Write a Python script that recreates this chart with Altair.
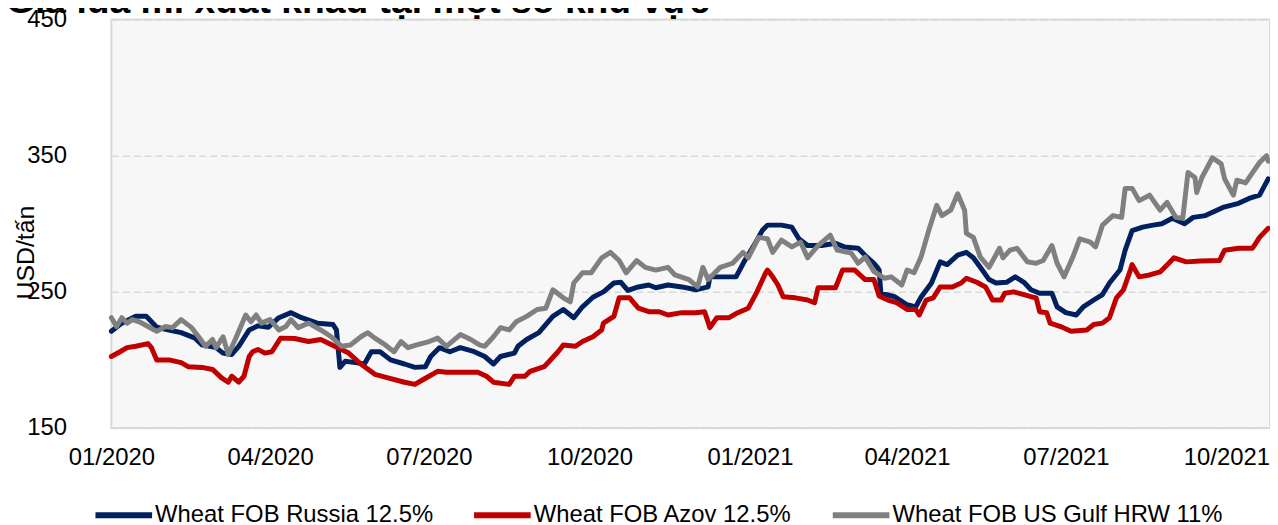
import altair as alt
import pandas as pd

# ---- data ----
TITLE = "Giá lúa mì xuất khẩu tại một số khu vực"
SERIES = ["Wheat FOB Russia 12.5%", "Wheat FOB Azov 12.5%", "Wheat FOB US Gulf HRW 11%"]
COLORS = ["#002060", "#c00000", "#808080"]
START = "2020-01-01"  # day 0 of the day-offset arrays below

russia_days = [0, 6, 14, 20, 26, 33, 40, 48, 52, 60, 64, 69, 73, 79, 84, 90, 96, 103, 109, 118,
               127, 129, 131, 134, 140, 145, 149, 154, 160, 168, 174, 180, 183, 188, 194, 200, 208,
               214, 219, 223, 231, 233, 238, 245, 253, 259, 265, 270, 276, 282, 288, 292, 296, 302,
               308, 312, 319, 327, 335, 342, 343, 350, 358, 363, 369, 373, 376, 384, 390, 394, 399,
               407, 415, 420, 428, 433, 437, 439, 440, 441, 449, 456, 461, 464, 470, 475, 479, 485,
               490, 494, 498, 503, 507, 513, 518, 523, 527, 532, 539, 542, 547, 553, 557, 563, 568,
               572, 578, 581, 585, 591, 597, 602, 608, 615, 620, 627, 637, 646, 652, 658, 663]
russia_vals = [221, 227, 232, 232, 224, 222, 220, 216, 211, 209, 205, 204, 210, 222, 225, 224, 231,
               234.7, 231, 227, 226, 222, 194.5, 199, 198, 197, 206, 206, 200, 197, 194.5, 195,
               202.5, 209, 206, 209, 206, 202.5, 197, 202.5, 205, 210, 215, 220, 232, 237, 231,
               239, 246, 250, 256.5, 257, 251, 253.6, 255, 253, 255, 253.6, 251.5, 253.6, 261,
               261, 261, 273, 285.7, 295, 299, 299, 297.5, 289, 284, 284, 285.7, 283, 282, 275.5,
               271, 268, 266, 249, 246.4, 240.5, 239, 246, 256.5, 272, 270, 277, 279, 275, 268,
               259, 256.5, 257, 261, 257, 251.5, 249, 249, 239, 234.7, 233, 239, 244, 248, 256.5,
               266, 280.6, 295, 297.5, 299, 300, 304, 300, 304.7, 306, 312, 315, 318.6, 321, 333]

azov_days = [0, 5, 9, 14, 21, 23, 26, 33, 40, 44, 52, 58, 63, 67, 69, 73, 76, 79, 81, 84, 88, 92,
             97, 105, 113, 120, 128, 136, 143, 151, 158, 168, 174, 179, 187, 192, 200, 210, 215,
             219, 228, 231, 237, 240, 248, 251, 256, 259, 266, 270, 276, 281, 282, 288, 291, 297,
             302, 308, 314, 319, 327, 335, 340, 343, 347, 354, 359, 365, 370, 375, 376, 379, 382,
             385, 392, 399, 403, 405, 415, 419, 426, 432, 437, 440, 445, 450, 456, 461, 463, 467,
             471, 475, 482, 487, 490, 496, 501, 505, 510, 512, 517, 523, 527, 530, 532, 536, 538,
             544, 550, 559, 563, 568, 572, 576, 580, 584, 585, 589, 595, 601, 606, 609, 616, 624,
             635, 638, 646, 654, 658, 663]
azov_vals = [202.5, 206, 209, 210, 212, 209, 200, 200, 198, 195, 194.5, 193, 187, 183.6, 188,
             183.6, 188, 202.5, 206, 207.7, 205, 206, 216, 215.7, 213.5, 215, 210, 205, 197,
             189.4, 187, 183.6, 182, 185.8, 191.6, 190.9, 190.9, 191, 188, 183.6, 182, 188, 188,
             191.6, 195, 199, 206, 211, 210, 213.5, 217, 222, 227, 232, 245.6, 245.6, 238, 235.4,
             235.4, 233, 234.7, 234.7, 235.4, 223.7, 231, 231, 234.7, 238, 250, 264, 266, 261,
             255, 246.4, 245.6, 244, 242, 253, 253, 266, 266, 259, 259, 247, 244, 242, 237, 237,
             233, 244, 245.6, 253.6, 253.6, 256.5, 260, 257, 253.6, 244, 244, 249, 250, 248,
             246.4, 245.6, 235.4, 234.7, 227, 224.5, 221, 222, 226, 227, 231, 245.6, 251.5, 266,
             270, 261, 262.4, 264.6, 271, 275, 272, 272.6, 273, 280.6, 282, 282, 290, 296.7]

gulf_days = [0, 3, 6, 9, 12, 16, 21, 26, 31, 35, 40, 46, 50, 54, 58, 60, 64, 67, 71, 77, 80, 83,
             86, 91, 96, 100, 103, 107, 113, 120, 126, 132, 137, 143, 147, 151, 157, 162, 166, 170,
             175, 181, 187, 192, 200, 206, 211, 214, 219, 223, 228, 232, 238, 244, 249, 253, 259,
             263, 265, 270, 275, 281, 286, 291, 295, 301, 306, 312, 319, 323, 331, 336, 339, 342,
             349, 356, 362, 365, 371, 376, 379, 384, 390, 395, 399, 405, 412, 416, 424, 428, 432,
             437, 443, 447, 453, 456, 460, 464, 469, 473, 476, 481, 485, 489, 490, 494, 498, 503,
             509, 511, 515, 519, 525, 530, 534, 539, 542, 546, 551, 555, 561, 564, 568, 574, 579,
             581, 585, 589, 595, 601, 605, 610, 614, 617, 621, 622, 625, 631, 636, 638, 643, 645,
             650, 654, 658, 662, 663]
gulf_vals = [231, 224.5, 231, 227, 229.6, 228, 224.5, 221, 224.5, 223.7, 229.6, 223.7, 217, 210,
             215, 209, 217, 204, 215, 233, 228, 233, 227, 229.6, 222, 224.5, 229.6, 223.7, 227,
             222, 217, 210, 211, 217, 220, 216, 211, 206, 213.5, 209, 211, 213, 216, 210, 218.6,
             215, 211, 210, 217, 223.7, 222, 228, 232, 237, 238, 251.5, 245.6, 242.7, 256.5, 264,
             264, 275, 279, 273, 264, 273, 268, 266, 268, 262.4, 259, 253.6, 268, 259, 268, 271,
             279, 275, 290, 289, 279, 288, 283, 286.5, 275, 284, 291.6, 280.6, 278.5, 271, 275.5,
             265, 260, 261, 255, 266, 264, 275.5, 297.5, 313.5, 306, 310, 322, 310, 293, 290,
             275.5, 268, 282, 275, 280.6, 282, 272, 271, 273, 284, 271, 261, 275.5, 289, 286.5,
             283, 299, 306, 304.7, 326, 326, 317, 321, 310, 315.7, 304.7, 304, 337.6, 334, 323,
             334, 348.5, 344, 333, 321, 332, 330, 337.6, 345, 350, 346]

Y_TICKS = [150, 250, 350, 450]
X_TICKS = ["2020-01-01", "2020-04-01", "2020-07-01", "2020-10-01",
           "2021-01-01", "2021-04-01", "2021-07-01", "2021-10-01"]
X_END = "2021-10-26"

# ---- build table ----
rows = []
start = pd.Timestamp(START)
for name, days, vals in zip(SERIES, [russia_days, azov_days, gulf_days],
                            [russia_vals, azov_vals, gulf_vals]):
    for d, v in zip(days, vals):
        rows.append({"date": (start + pd.Timedelta(days=d)).strftime("%Y-%m-%d"),
                     "value": v, "series": name})
df = pd.DataFrame(rows)


def dt(s):
    t = pd.Timestamp(s)
    return alt.DateTime(year=t.year, month=t.month, date=t.day, utc=True)


FONT = "Liberation Sans"

x_enc = alt.X(
    "date:T",
    scale=alt.Scale(type="utc", domain=[dt(START), dt(X_END)], nice=False),
    axis=alt.Axis(values=[dt(s) for s in X_TICKS],
                  labelExpr="utcFormat(datum.value, '%m/%Y')",
                  title=None, ticks=False, domain=False, grid=False, labelFlush=False,
                  labelFontSize=24, labelPadding=18, labelColor="#000000", labelFont=FONT),
)
y_enc = alt.Y(
    "value:Q",
    scale=alt.Scale(domain=[Y_TICKS[0], Y_TICKS[-1]], nice=False, zero=False),
    axis=alt.Axis(values=Y_TICKS, title="USD/tấn", ticks=False, domain=False, grid=True,
                  gridDash=[7, 4], gridColor="#d9d9d9", gridWidth=1.5,
                  labelFontSize=24, labelPadding=45, labelColor="#000000", labelFont=FONT,
                  titleFontSize=25, titleFontWeight="normal", titleColor="#000000",
                  titleFont=FONT, titleAngle=-90, titleAlign="center",
                  titleBaseline="alphabetic", titleX=-78, titleY=234),
)

lines = alt.Chart(df).mark_line(strokeWidth=5, strokeJoin="round", strokeCap="round").encode(
    x=x_enc,
    y=y_enc,
    color=alt.Color(
        "series:N",
        sort=SERIES,
        scale=alt.Scale(domain=SERIES, range=COLORS),
        legend=alt.Legend(orient="none", legendX=-19, legendY=467, direction="horizontal",
                          title=None, symbolType="stroke", symbolStrokeWidth=6,
                          symbolSize=3249, labelFontSize=24, labelFont=FONT,
                          labelColor="#000000", labelOffset=0, columnPadding=28,
                          labelLimit=500, padding=0),
    ),
)

title = alt.Chart(pd.DataFrame({"t": [TITLE]})).mark_text(
    align="left", baseline="alphabetic", fontSize=37.5, fontWeight="bold", font=FONT,
    color="#000000",
).encode(text="t:N", x=alt.value(-106), y=alt.value(-7))

chart = alt.layer(lines, title).properties(
    width=1166, height=411,
    autosize=alt.AutoSizeParams(type="none"),
    padding={"left": 104, "top": 10, "right": 0, "bottom": 96},
    background="#ffffff",
).configure(font=FONT).configure_view(fill="#f7f7f7", stroke="#d9d9d9", strokeWidth=2)

chart.save("out.html", embed_options={"renderer": "svg", "actions": False})
